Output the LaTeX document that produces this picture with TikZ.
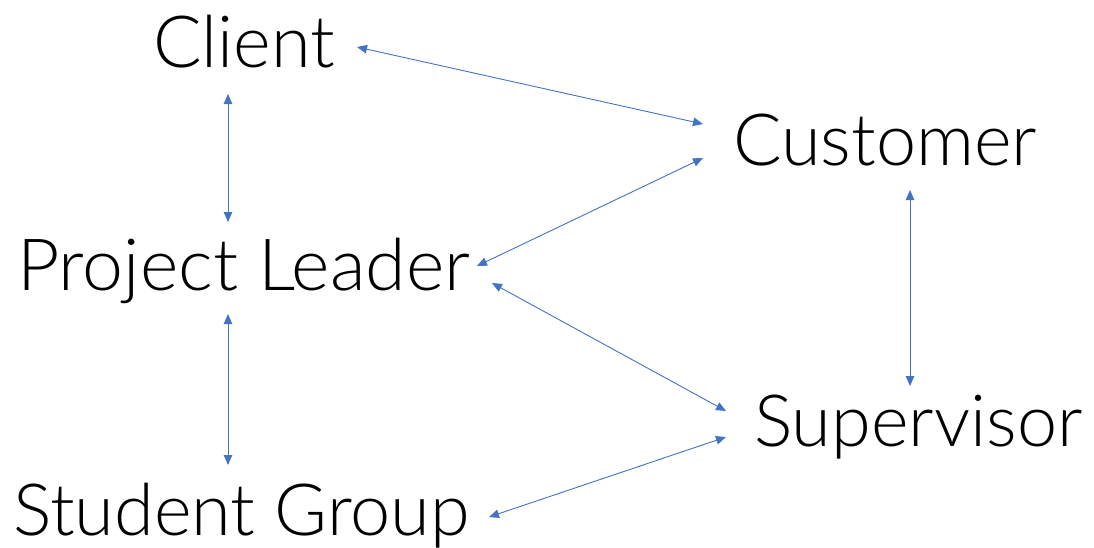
\documentclass[tikz,border=0pt]{standalone}
\usepackage{fontspec}
\setmainfont{Lato}[UprightFont={* Light}]
\usetikzlibrary{arrows.meta}
\definecolor{linkblue}{HTML}{4472C4}
\tikzset{
  role/.style={anchor=base west, inner sep=0pt, font=\fontsize{72}{82}\selectfont},
  link/.style={draw=linkblue, line width=0.9pt,
    {Triangle[length=10pt,width=8.5pt]}-{Triangle[length=10pt,width=8.5pt]}}
}
\begin{document}
\begin{tikzpicture}[x=1pt,y=-1pt]
\useasboundingbox (0,0) rectangle (1094,547);
% roles
\node[role] (client) at (153,67) {Client};
\node[role] (customer) at (733,165) {Customer};
\node[role, xscale=1.02] (leader) at (17,290) {Project Leader};
\node[role] (supervisor) at (754,446) {Supervisor};
\node[role] (students) at (13,535) {Student Group};
% connector end points
\coordinate (clA) at (357,47);   \coordinate (cuA) at (703,124);
\coordinate (clB) at (228,94);   \coordinate (plB) at (228,222);
\coordinate (cuC) at (703,158);  \coordinate (plC) at (477,266);
\coordinate (plD) at (492,283);  \coordinate (suD) at (726,411);
\coordinate (suE) at (726,437);  \coordinate (sgE) at (489,517);
\coordinate (cuF) at (910,190);  \coordinate (suF) at (910,386);
\coordinate (plG) at (228,314);  \coordinate (sgG) at (228,465);
% links
\draw[link] (clA) -- (cuA);
\draw[link] (clB) -- (plB);
\draw[link] (cuC) -- (plC);
\draw[link] (plD) -- (suD);
\draw[link] (suE) -- (sgE);
\draw[link] (cuF) -- (suF);
\draw[link] (plG) -- (sgG);
\end{tikzpicture}
\end{document}
